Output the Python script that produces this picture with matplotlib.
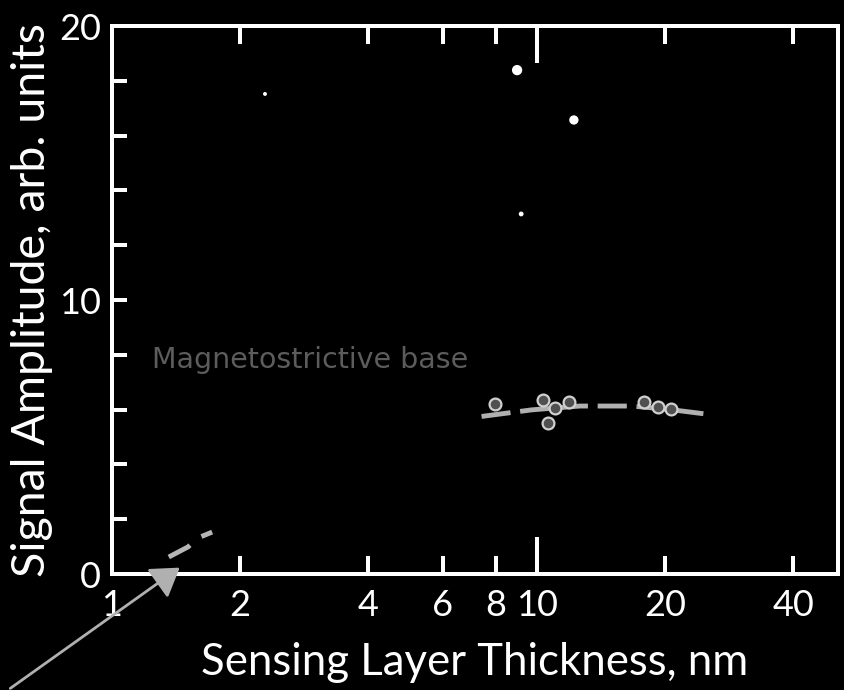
import matplotlib
matplotlib.use("Agg")
import matplotlib.pyplot as plt
from matplotlib.ticker import FixedLocator, FixedFormatter, NullFormatter

# Fitted trend through the thickness series
trend_x = [7.4, 9.7, 12.6, 16.7, 20.6, 24.6]
trend_y = [5.75, 5.99, 6.13, 6.13, 6.00, 5.85]

# Measured amplitudes
meas_x = [7.96, 10.3, 10.6, 11.0, 11.9, 17.8, 19.2, 20.6]
meas_y = [6.20, 6.35, 5.51, 6.06, 6.28, 6.28, 6.09, 6.02]

# Thin-layer segment near the origin
thin_x = [1.36, 1.51, 1.59, 1.72]
thin_y = [0.62, 0.99, 1.31, 1.53]

# Isolated high readings
spot_x = [8.97, 12.2, 9.17, 2.29]
spot_y = [18.39, 16.57, 13.14, 17.52]
spot_s = [55, 45, 12, 8]

x_major = [1, 10]
x_minor = [2, 4, 6, 8, 20, 40]
x_minor_labels = ["2", "4", "6", "8", "20", "40"]
y_ticks = [0, 10, 20]
y_minor = [2, 4, 6, 8, 12, 14, 16, 18]

W, H, DPI = 845, 690, 100
fig = plt.figure(figsize=(W / DPI, H / DPI), dpi=DPI, facecolor="black")
ax = fig.add_axes([112 / W, 1 - 574 / H, (838 - 112) / W, (574 - 26) / H])
ax.set_facecolor("black")

font = "Lato"
fg = "white"
px = 72 / DPI

ax.set_xscale("log")
ax.set_xlim(1, 51)
ax.set_ylim(0, 20)

for s in ax.spines.values():
    s.set_color(fg)
    s.set_linewidth(4 * px)

ax.xaxis.set_major_locator(FixedLocator(x_major))
ax.xaxis.set_major_formatter(FixedFormatter(["1", "10"]))
ax.xaxis.set_minor_locator(FixedLocator(x_minor))
ax.xaxis.set_minor_formatter(FixedFormatter(x_minor_labels))
ax.tick_params(axis="x", which="major", direction="in", length=37 * px, width=4 * px,
               top=True, bottom=True, color=fg, labelcolor=fg, labelsize=26, pad=11)
ax.tick_params(axis="x", which="minor", direction="in", length=18 * px, width=4 * px,
               top=True, bottom=True, color=fg, labelcolor=fg, labelsize=26, pad=11)

ax.yaxis.set_major_locator(FixedLocator(y_ticks))
ax.yaxis.set_minor_locator(FixedLocator(y_minor))
ax.yaxis.set_minor_formatter(NullFormatter())
ax.tick_params(axis="y", which="both", direction="in", length=15 * px, width=4 * px,
               left=True, right=False, color=fg, labelcolor=fg, labelsize=26, pad=8)

for lab in ax.get_xticklabels(which="both") + ax.get_yticklabels():
    lab.set_fontfamily(font)

ax.set_xlabel("Sensing Layer Thickness, nm", color=fg, fontsize=31.5, family=font, labelpad=14)
ax.set_ylabel("Signal Amplitude, arb. units", color=fg, fontsize=33.5, family=font, labelpad=4)

# Trend line and measured points
ax.plot(trend_x, trend_y, linestyle=(0, (6, 2)), color="#b0b0b0", lw=3.5, zorder=2)
ax.plot(meas_x, meas_y, linestyle="none", marker="o", markersize=8.5,
        markerfacecolor="#505050", markeredgecolor="#d0d0d0", markeredgewidth=1.6, zorder=3)

# Thin-layer segment
ax.plot(thin_x, thin_y, linestyle=(0, (5, 3)), color="#b5b5b5", lw=3.5, zorder=2)

# Isolated readings
ax.scatter(spot_x, spot_y, s=spot_s, color="white", edgecolors="none", zorder=3)

# Faint caption
ax.text(1.24, 7.8, "Magnetostrictive base", color="#5c5c5c", fontsize=20.5,
        family="DejaVu Sans", va="center", ha="left")

# Pointer arrow from the lower-left corner
ax.annotate("", xy=(182 / W, 1 - 566 / H), xycoords="figure fraction",
            xytext=(8 / W, 1 - 690 / H), textcoords="figure fraction",
            arrowprops=dict(arrowstyle="-|>,head_length=1.7,head_width=1.1",
                            color="#b0b0b0", lw=2), annotation_clip=False)

fig.savefig("out.png", dpi=DPI, facecolor="black")
